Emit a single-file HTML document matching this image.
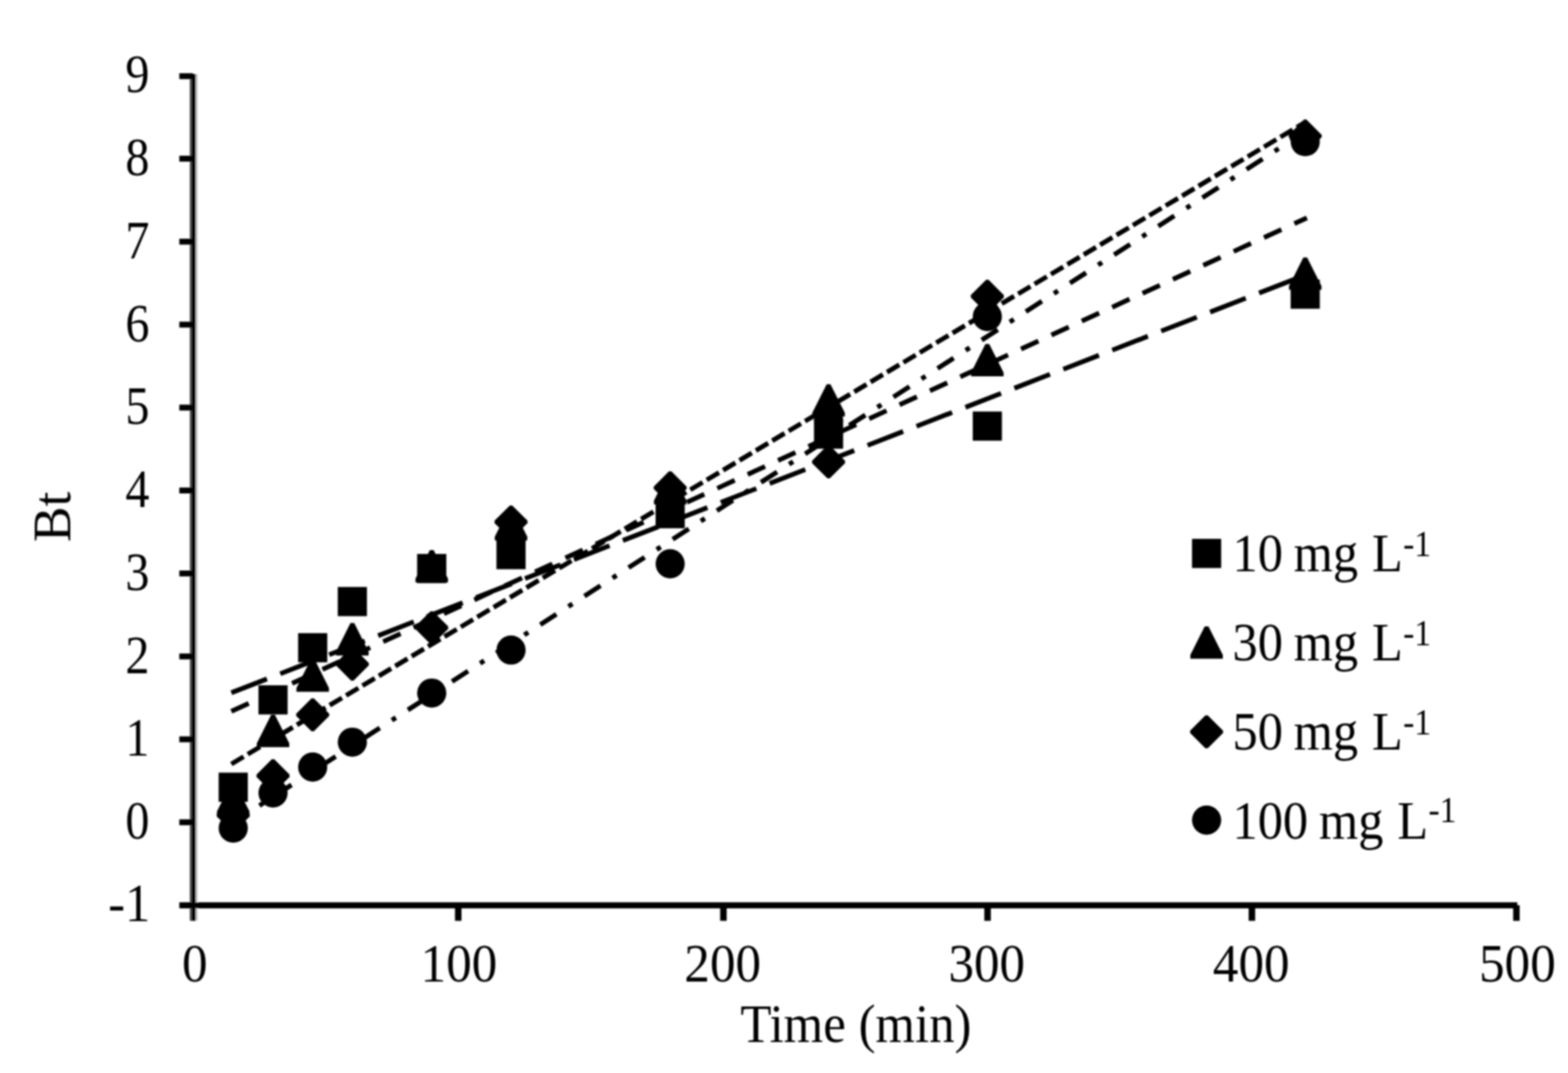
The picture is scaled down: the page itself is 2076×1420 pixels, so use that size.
<!DOCTYPE html>
<html lang="en"><head><meta charset="utf-8"><title>Bt vs Time</title>
<style>html,body{margin:0;padding:0;background:#fff}body{width:2076px;height:1420px;overflow:hidden}svg{display:block}text{font-family:"Liberation Serif","DejaVu Serif",serif;fill:#000;stroke:none}</style></head><body>
<svg width="2076" height="1420" viewBox="0 0 2076 1420">
<rect width="2076" height="1420" fill="#fff"/>
<defs><filter id="soft" x="0" y="0" width="2076" height="1420" filterUnits="userSpaceOnUse"><feGaussianBlur stdDeviation="1"/></filter></defs>
<g filter="url(#soft)">
<g id="axes">
<rect x="259" y="98" width="2.6" height="1120.6" fill="#c4c4c4"/>
<rect x="251.3" y="98" width="3" height="1120.6" fill="#4a4a4a"/>
<rect x="254" y="98" width="5.1" height="1120.6" fill="#000"/>
<rect x="237.4" y="1194.1" width="1771.5" height="8.0" fill="#000"/>
<rect x="237.4" y="1084.3" width="18" height="7.8" fill="#000"/>
<rect x="237.4" y="974.5" width="18" height="7.8" fill="#000"/>
<rect x="237.4" y="864.8" width="18" height="7.8" fill="#000"/>
<rect x="237.4" y="755.0" width="18" height="7.8" fill="#000"/>
<rect x="237.4" y="645.2" width="18" height="7.8" fill="#000"/>
<rect x="237.4" y="535.5" width="18" height="7.8" fill="#000"/>
<rect x="237.4" y="425.7" width="18" height="7.8" fill="#000"/>
<rect x="237.4" y="315.9" width="18" height="7.8" fill="#000"/>
<rect x="237.4" y="206.1" width="18" height="7.8" fill="#000"/>
<rect x="237.4" y="96.9" width="18" height="7.8" fill="#000"/>
<rect x="602.4" y="1198" width="8.6" height="20.6" fill="#000"/>
<rect x="953.5" y="1198" width="8.6" height="20.6" fill="#000"/>
<rect x="1303.2" y="1198" width="8.6" height="20.6" fill="#000"/>
<rect x="1653.2" y="1198" width="8.6" height="20.6" fill="#000"/>
<rect x="2003.4" y="1198" width="8.6" height="20.6" fill="#000"/>
</g>
<g id="trend" fill="none" stroke="#000" stroke-width="6.30">
<line x1="306.3" y1="916.8" x2="1730.3" y2="363.2" stroke-dasharray="50.56 18.96" stroke-dashoffset="-0.00"/>
<line x1="306.3" y1="941.3" x2="1730.3" y2="288.3" stroke-dasharray="25.28 18.96" stroke-dashoffset="-0.00"/>
<line x1="306.3" y1="1011.1" x2="1730.3" y2="160.5" stroke-dasharray="18.96 6.32" stroke-dashoffset="-0.00"/>
<line x1="306.3" y1="1090.1" x2="1730.3" y2="172.6" stroke-dasharray="25.28 18.96 6.32 18.96" stroke-dashoffset="-0.00"/>
</g>
<g id="markers" fill="#000">
<rect x="289.5" y="1022.5" width="38.6" height="38.6"/>
<rect x="342.2" y="906.9" width="38.6" height="38.6"/>
<rect x="394.7" y="837.9" width="38.6" height="38.6"/>
<rect x="447.2" y="776.8" width="38.6" height="38.6"/>
<rect x="552.3" y="733.1" width="38.6" height="38.6"/>
<rect x="657.3" y="714.7" width="38.6" height="38.6"/>
<rect x="868.0" y="660.5" width="38.6" height="38.6"/>
<rect x="1077.7" y="555.2" width="38.6" height="38.6"/>
<rect x="1287.9" y="544.6" width="38.6" height="38.6"/>
<rect x="1708.8" y="370.0" width="38.6" height="38.6"/>
<polygon points="306.3,1036.0 311.3,1036.0 330.3,1073.8 330.3,1078.8 287.3,1078.8 287.3,1073.8"/>
<polygon points="359.0,945.9 364.0,945.9 383.0,983.7 383.0,988.7 340.0,988.7 340.0,983.7"/>
<polygon points="411.5,872.6 416.5,872.6 435.5,910.4 435.5,915.4 392.5,915.4 392.5,910.4"/>
<polygon points="464.0,824.6 469.0,824.6 488.0,862.4 488.0,867.4 445.0,867.4 445.0,862.4"/>
<polygon points="569.1,728.0 574.1,728.0 593.1,765.8 593.1,770.8 550.1,770.8 550.1,765.8"/>
<polygon points="674.1,672.5 679.1,672.5 698.1,710.3 698.1,715.3 655.1,715.3 655.1,710.3"/>
<polygon points="884.8,624.8 889.8,624.8 908.8,662.6 908.8,667.6 865.8,667.6 865.8,662.6"/>
<polygon points="1094.5,508.4 1099.5,508.4 1118.5,546.2 1118.5,551.2 1075.5,551.2 1075.5,546.2"/>
<polygon points="1304.7,455.2 1309.7,455.2 1328.7,493.0 1328.7,498.0 1285.7,498.0 1285.7,493.0"/>
<polygon points="1725.6,340.8 1730.6,340.8 1749.6,378.6 1749.6,383.6 1706.6,383.6 1706.6,378.6"/>
<polygon points="307.2,1057.2 310.4,1057.2 330.6,1077.4 330.6,1080.6 310.4,1100.8 307.2,1100.8 287.0,1080.6 287.0,1077.4"/>
<polygon points="359.9,1004.8 363.1,1004.8 383.3,1025.0 383.3,1028.2 363.1,1048.4 359.9,1048.4 339.7,1028.2 339.7,1025.0"/>
<polygon points="412.4,924.2 415.6,924.2 435.8,944.4 435.8,947.6 415.6,967.8 412.4,967.8 392.2,947.6 392.2,944.4"/>
<polygon points="464.9,857.2 468.1,857.2 488.3,877.4 488.3,880.6 468.1,900.8 464.9,900.8 444.7,880.6 444.7,877.4"/>
<polygon points="570.0,808.9 573.2,808.9 593.4,829.1 593.4,832.3 573.2,852.5 570.0,852.5 549.8,832.3 549.8,829.1"/>
<polygon points="675.0,668.9 678.2,668.9 698.4,689.1 698.4,692.3 678.2,712.5 675.0,712.5 654.8,692.3 654.8,689.1"/>
<polygon points="885.7,623.7 888.9,623.7 909.1,643.9 909.1,647.1 888.9,667.3 885.7,667.3 865.5,647.1 865.5,643.9"/>
<polygon points="1095.4,589.5 1098.6,589.5 1118.8,609.7 1118.8,612.9 1098.6,633.1 1095.4,633.1 1075.2,612.9 1075.2,609.7"/>
<polygon points="1305.6,370.3 1308.8,370.3 1329.0,390.5 1329.0,393.7 1308.8,413.9 1305.6,413.9 1285.4,393.7 1285.4,390.5"/>
<polygon points="1726.5,158.2 1729.7,158.2 1749.9,178.4 1749.9,181.6 1729.7,201.8 1726.5,201.8 1706.3,181.6 1706.3,178.4"/>
<circle cx="308.8" cy="1095.9" r="19.3"/>
<circle cx="361.5" cy="1049.4" r="19.3"/>
<circle cx="414.0" cy="1015.1" r="19.3"/>
<circle cx="466.5" cy="982.2" r="19.3"/>
<circle cx="571.6" cy="917.2" r="19.3"/>
<circle cx="676.6" cy="860.3" r="19.3"/>
<circle cx="887.3" cy="746.1" r="19.3"/>
<circle cx="1097.0" cy="556.2" r="19.3"/>
<circle cx="1307.2" cy="418.9" r="19.3"/>
<circle cx="1728.1" cy="187.5" r="19.3"/>
</g>
<g id="legend" fill="#000">
<rect x="1578.2" y="713.1" width="38.6" height="38.6"/>
<polygon points="1595.0,829.0 1600.0,829.0 1619.0,866.8 1619.0,871.8 1576.0,871.8 1576.0,866.8"/>
<polygon points="1595.9,946.7 1599.1,946.7 1619.3,966.9 1619.3,970.1 1599.1,990.3 1595.9,990.3 1575.7,970.1 1575.7,966.9"/>
<circle cx="1597.5" cy="1085.4" r="19.3"/>
<text id="leg0" transform="translate(1631.8,756.3) scale(0.928,1)" font-size="72">10<tspan dx="-2.7"> mg</tspan><tspan dx="1.8"> L</tspan><tspan font-size="48" dy="-20.0" dx="0.5">-1</tspan></text>
<text id="leg1" transform="translate(1631.8,873.8) scale(0.928,1)" font-size="72">30<tspan dx="-2.7"> mg</tspan><tspan dx="1.8"> L</tspan><tspan font-size="48" dy="-20.0" dx="0.5">-1</tspan></text>
<text id="leg2" transform="translate(1631.8,991.8) scale(0.928,1)" font-size="72">50<tspan dx="-2.7"> mg</tspan><tspan dx="1.8"> L</tspan><tspan font-size="48" dy="-20.0" dx="0.5">-1</tspan></text>
<text id="leg3" transform="translate(1631.8,1110.3) scale(0.928,1)" font-size="72">100<tspan dx="-2.7"> mg</tspan><tspan dx="1.8"> L</tspan><tspan font-size="48" dy="-22.3" dx="0.5">-1</tspan></text>
</g>
<g id="ylabels" font-size="72" text-anchor="end">
<text id="yl0" transform="translate(199.0,1218.6) scale(0.930,1)">-1</text>
<text id="yl1" transform="translate(197.9,1110.2) scale(0.885,1)">0</text>
<text id="yl2" transform="translate(197.9,1000.4) scale(0.885,1)">1</text>
<text id="yl3" transform="translate(197.9,890.7) scale(0.885,1)">2</text>
<text id="yl4" transform="translate(197.9,780.9) scale(0.885,1)">3</text>
<text id="yl5" transform="translate(197.9,671.1) scale(0.885,1)">4</text>
<text id="yl6" transform="translate(197.9,561.4) scale(0.885,1)">5</text>
<text id="yl7" transform="translate(197.9,451.6) scale(0.885,1)">6</text>
<text id="yl8" transform="translate(197.9,341.8) scale(0.885,1)">7</text>
<text id="yl9" transform="translate(197.9,232.0) scale(0.885,1)">8</text>
<text id="yl10" transform="translate(197.9,122.3) scale(0.885,1)">9</text>
</g>
<g id="xlabels" font-size="72" text-anchor="middle">
<text id="xl0" transform="translate(257.8,1299.4) scale(0.940,1)">0</text>
<text id="xl100" transform="translate(607.6,1299.4) scale(0.940,1)">100</text>
<text id="xl200" transform="translate(956.8,1299.4) scale(0.940,1)">200</text>
<text id="xl300" transform="translate(1306.4,1299.4) scale(0.940,1)">300</text>
<text id="xl400" transform="translate(1656.6,1299.4) scale(0.940,1)">400</text>
<text id="xl500" transform="translate(2009.0,1299.4) scale(0.940,1)">500</text>
</g>
<text id="xtitle" transform="translate(1133.2,1379.4) scale(0.935,1)" font-size="72" text-anchor="middle">Time (min)</text>
<text id="ytitle" transform="translate(93,684.0) rotate(-90) scale(0.98,1)" font-size="72" text-anchor="middle">Bt</text>
</g>
</svg></body></html>
